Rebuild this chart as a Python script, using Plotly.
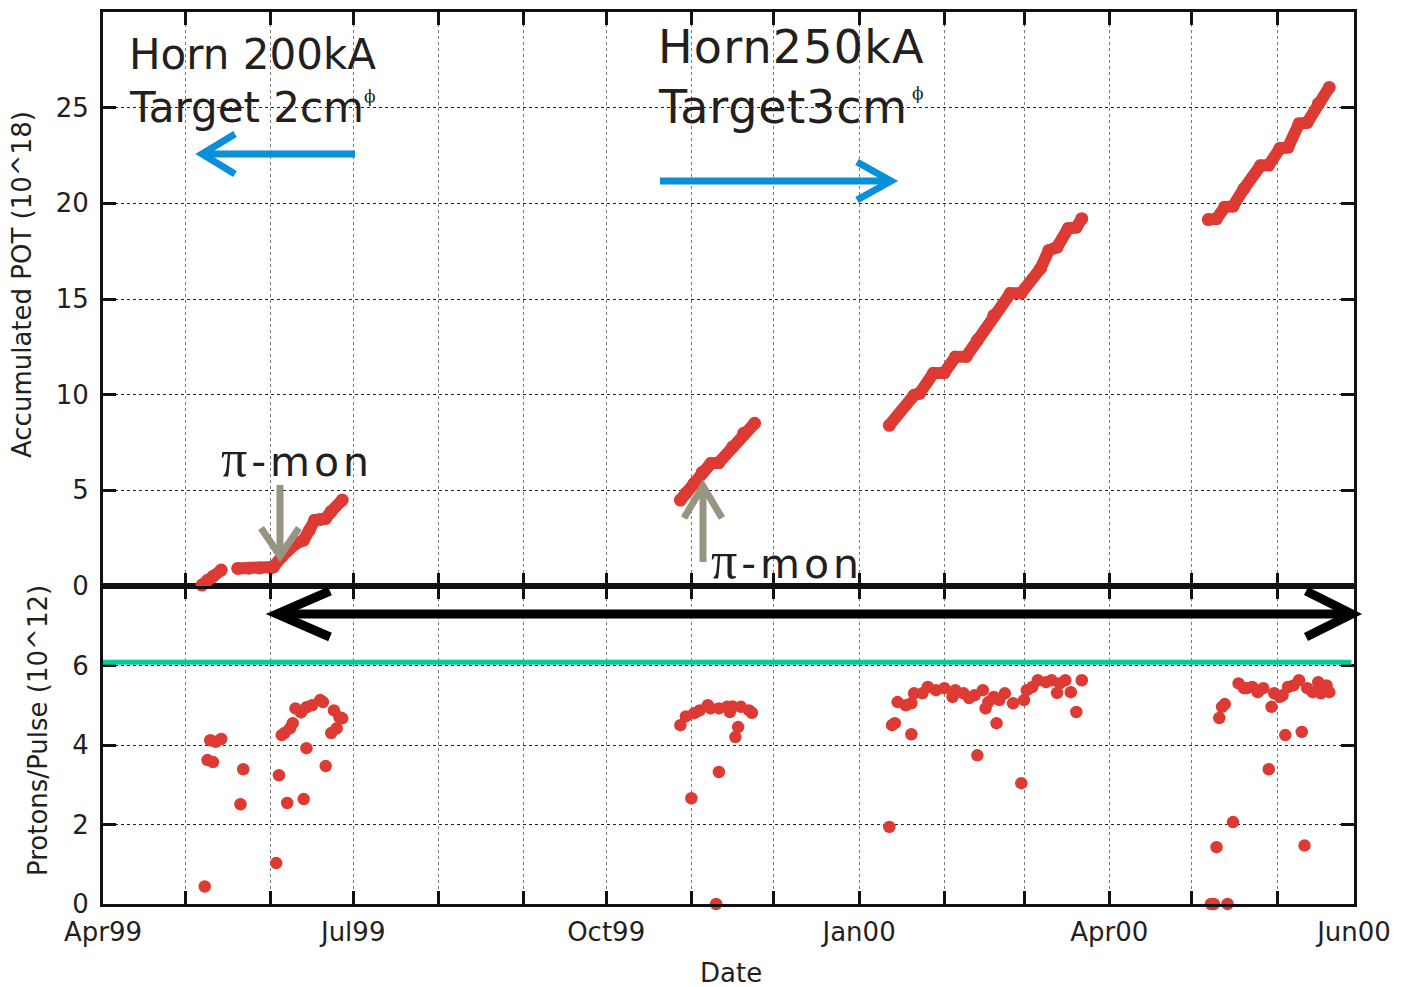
import plotly.graph_objects as go

# ---------------- data ----------------
# Accumulated protons on target (10^18); None marks gaps between running periods
pot_dates = [
    "1999-05-07", "1999-05-09", "1999-05-11", "1999-05-14", None,
    "1999-05-20", "1999-05-24", "1999-05-28", "1999-06-01", "1999-06-02",
    "1999-06-05", "1999-06-08", "1999-06-10", "1999-06-13", "1999-06-15",
    "1999-06-17", "1999-06-19", "1999-06-21", "1999-06-23", "1999-06-27", None,
    "1999-10-28", "1999-10-30", "1999-11-02", "1999-11-05", "1999-11-08",
    "1999-11-11", "1999-11-16", "1999-11-20", "1999-11-24", None,
    "2000-01-12", "2000-01-21", "2000-01-23", "2000-01-28", "2000-02-01",
    "2000-02-05", "2000-02-09", "2000-02-13", "2000-02-19", "2000-02-25",
    "2000-02-29", "2000-03-07", "2000-03-10", "2000-03-13", "2000-03-17",
    "2000-03-20", "2000-03-22", None,
    "2000-05-07", "2000-05-10", "2000-05-13", "2000-05-16", "2000-05-20",
    "2000-05-26", "2000-05-29", "2000-06-02", "2000-06-05", "2000-06-09",
    "2000-06-12", "2000-06-16", "2000-06-20",
]
pot_vals = [
    0.05, 0.3, 0.5, 0.83, None,
    0.92, 0.93, 0.94, 0.95, 1.0,
    1.53, 2.05, 2.2, 2.40, 2.9,
    3.44, 3.48, 3.53, 3.9, 4.49, None,
    4.49, 4.85, 5.37, 5.95, 6.40,
    6.45, 7.27, 7.98, 8.50, None,
    8.40, 9.97, 10.07, 11.12, 11.15,
    11.97, 12.0, 12.84, 14.14, 15.29,
    15.32, 16.60, 17.54, 17.71, 18.68,
    18.75, 19.20, None,
    19.15, 19.20, 19.80, 19.85, 20.77,
    21.97, 22.0, 22.86, 22.93, 24.16,
    24.23, 25.2, 26.06,
]

# Protons per pulse (10^12)
ppp_dates = [
    "1999-05-08", "1999-05-09", "1999-05-10", "1999-05-11", "1999-05-12", "1999-05-14",
    "1999-05-21", "1999-05-22", "1999-06-03", "1999-06-04", "1999-06-05", "1999-06-06",
    "1999-06-07", "1999-06-08", "1999-06-09", "1999-06-10", "1999-06-12", "1999-06-13",
    "1999-06-14", "1999-06-14", "1999-06-16", "1999-06-19", "1999-06-20", "1999-06-21",
    "1999-06-23", "1999-06-24", "1999-06-25", "1999-06-26", "1999-06-27",
    "1999-10-28", "1999-10-30", "1999-11-01", "1999-11-02", "1999-11-04", "1999-11-07",
    "1999-11-08", "1999-11-10", "1999-11-11", "1999-11-11", "1999-11-14", "1999-11-15",
    "1999-11-16", "1999-11-17", "1999-11-18", "1999-11-19", "1999-11-22", "1999-11-23",
    "2000-01-12", "2000-01-13", "2000-01-14", "2000-01-15", "2000-01-18", "2000-01-20",
    "2000-01-20", "2000-01-21", "2000-01-24", "2000-01-26", "2000-01-29", "2000-02-01",
    "2000-02-04", "2000-02-05", "2000-02-08", "2000-02-10", "2000-02-12", "2000-02-13",
    "2000-02-15", "2000-02-16", "2000-02-17", "2000-02-19", "2000-02-20", "2000-02-21",
    "2000-02-23", "2000-02-26", "2000-02-29", "2000-03-01", "2000-03-02", "2000-03-04",
    "2000-03-06", "2000-03-09", "2000-03-11", "2000-03-13", "2000-03-14", "2000-03-16",
    "2000-03-18", "2000-03-20", "2000-03-22",
    "2000-05-08", "2000-05-09", "2000-05-10", "2000-05-11", "2000-05-12", "2000-05-13",
    "2000-05-14", "2000-05-16", "2000-05-18", "2000-05-20", "2000-05-21", "2000-05-23",
    "2000-05-25", "2000-05-27", "2000-05-29", "2000-05-30", "2000-05-31", "2000-06-02",
    "2000-06-03", "2000-06-04", "2000-06-05", "2000-06-07", "2000-06-09", "2000-06-10",
    "2000-06-11", "2000-06-12", "2000-06-14", "2000-06-16", "2000-06-17", "2000-06-19",
    "2000-06-20",
]
ppp_vals = [
    0.44, 3.62, 4.12, 3.57, 4.08, 4.15,
    2.51, 3.39, 1.03, 3.24, 4.25, 4.30,
    2.54, 4.42, 4.55, 4.92, 4.82, 2.64,
    3.92, 4.95, 5.00, 5.13, 5.08, 3.47,
    4.30, 4.87, 4.42, 4.70, 4.67,
    4.50, 4.72, 2.66, 4.80, 4.87, 5.00,
    4.92, 0.00, 4.92, 3.32, 4.96, 4.83,
    4.97, 4.20, 4.45, 4.96, 4.87, 4.81,
    1.94, 4.50, 4.55, 5.08, 5.00, 5.05,
    4.27, 5.30, 5.30, 5.46, 5.38, 5.43,
    5.21, 5.38, 5.30, 5.18, 5.25, 3.74,
    5.38, 4.92, 5.08, 5.21, 4.55, 5.13,
    5.30, 5.05, 3.04, 5.13, 5.38, 5.46,
    5.63, 5.58, 5.63, 5.31, 5.55, 5.63,
    5.33, 4.83, 5.63,
    0.00, 0.00, 1.43, 4.68, 4.96, 5.03,
    0.00, 2.06, 5.55, 5.43, 5.43, 5.46,
    5.33, 5.43, 3.39, 4.96, 5.30, 5.21,
    5.25, 4.25, 5.46, 5.50, 5.63, 4.33,
    1.47, 5.43, 5.33, 5.58, 5.30, 5.50,
    5.33,
]

design_level = 6.08  # reference intensity line (10^12)

month_ticks = [
    "1999-04-01", "1999-05-01", "1999-06-01", "1999-07-01", "1999-08-01",
    "1999-09-01", "1999-10-01", "1999-11-01", "1999-12-01", "2000-01-01",
    "2000-02-01", "2000-03-01", "2000-04-01", "2000-05-01", "2000-06-01",
    "2000-06-29",
]
month_labels = [
    "Apr99", "", "", "Jul99", "", "", "Oct99", "", "", "Jan00",
    "", "", "Apr00", "", "", "Jun00",
]
x_range = ["1999-04-01", "2000-06-29"]

# ---------------- styling ----------------
RED = "#de3a34"
INK = "#231f20"
FONT = "DejaVu Sans"
W, H = 1413, 987
L, R, T, B = 103, 1354, 12, 904
SPLIT = 586


def P(px, py):
    """pixel -> paper coordinates (for decorations only)"""
    return (px - L) / (R - L), (B - py) / (B - T)


split_frac = (B - SPLIT) / (B - T)

fig = go.Figure()
fig.add_trace(go.Scatter(
    x=pot_dates, y=pot_vals, xaxis="x2", yaxis="y2", mode="lines+markers",
    line=dict(color=RED, width=12), marker=dict(color=RED, size=13),
    connectgaps=False, cliponaxis=False, showlegend=False,
))
fig.add_trace(go.Scatter(
    x=ppp_dates, y=ppp_vals, xaxis="x", yaxis="y", mode="markers",
    marker=dict(color=RED, size=12.5), cliponaxis=False, showlegend=False,
))

axis_common = dict(
    showline=True, linewidth=3, linecolor="#111", mirror="ticks",
    ticks="inside", ticklen=13, tickwidth=2.5, tickcolor="#111",
    zeroline=False, showgrid=True, gridwidth=1,
    tickfont=dict(family=FONT, size=26, color=INK),
)

fig.update_layout(
    width=W, height=H,
    margin=dict(l=L, r=W - R, t=T, b=H - B, autoexpand=False),
    paper_bgcolor="white", plot_bgcolor="white",
    xaxis=dict(axis_common, type="date", range=x_range, anchor="y",
               tickmode="array", tickvals=month_ticks, ticktext=month_labels,
               gridcolor="#7a7a7a", griddash="3px,3px", ticklabelstandoff=3),
    xaxis2=dict(axis_common, type="date", range=x_range, anchor="y2", matches="x",
                tickmode="array", tickvals=month_ticks, ticktext=month_labels,
                showticklabels=False, gridcolor="#7a7a7a", griddash="3px,3px"),
    yaxis=dict(axis_common, domain=[0, split_frac], range=[0, 8],
               tickmode="array", tickvals=[0, 2, 4, 6],
               gridcolor="#222", griddash="3px,3px", anchor="x", ticklabelstandoff=6),
    yaxis2=dict(axis_common, domain=[split_frac, 1], range=[0, 30],
                tickmode="array", tickvals=[0, 5, 10, 15, 20, 25],
                gridcolor="#222", griddash="3px,3px", anchor="x2", ticklabelstandoff=6),
)

shapes = []
# green reference line
shapes.append(dict(type="line", xref="paper", yref="y", x0=0, x1=0.998,
                   y0=design_level, y1=design_level,
                   line=dict(color="#0cc799", width=5)))


def seg(p0, p1, color, width):
    x0, y0 = P(*p0)
    x1, y1 = P(*p1)
    return dict(type="line", xref="paper", yref="paper", x0=x0, y0=y0, x1=x1, y1=y1,
                line=dict(color=color, width=width))


def chevron(a, tip, b, color, width):
    pts = [P(*a), P(*tip), P(*b)]
    path = "M{:.5f},{:.5f} L{:.5f},{:.5f} L{:.5f},{:.5f}".format(
        pts[0][0], pts[0][1], pts[1][0], pts[1][1], pts[2][0], pts[2][1])
    return dict(type="path", xref="paper", yref="paper", path=path,
                line=dict(color=color, width=width))


BLUE = "#0a8fd9"
GRAY = "#979482"
BLACK = "#000000"
# blue arrows
shapes.append(seg((204, 154), (355, 154), BLUE, 7))
shapes.append(chevron((235, 134), (202, 154), (235, 174), BLUE, 7))
shapes.append(seg((660, 181), (889, 181), BLUE, 7))
shapes.append(chevron((857, 162), (891, 181), (857, 200), BLUE, 7))
# gray arrows
shapes.append(seg((280, 485), (280, 553), GRAY, 7))
shapes.append(chevron((261, 528), (280, 556), (299, 528), GRAY, 7))
shapes.append(seg((703, 562), (703, 488), GRAY, 7))
shapes.append(chevron((684, 518), (703, 486), (722, 518), GRAY, 7))
# black double arrow
shapes.append(seg((280, 614), (1348, 614), BLACK, 9))
shapes.append(chevron((330, 591), (277, 614), (330, 637), BLACK, 9))
shapes.append(chevron((1306, 591), (1352, 614), (1306, 637), BLACK, 9))
fig.update_layout(shapes=shapes)

ann = []


def text(px, py, s, size, xanchor="left", family=FONT, angle=0):
    x, y = P(px, py)
    ann.append(dict(xref="paper", yref="paper", x=x, y=y, text=s, showarrow=False,
                    xanchor=xanchor, yanchor="middle", textangle=angle,
                    font=dict(family=family, size=size, color=INK)))


text(127, 55, "Horn 200kA", 42)
text(127, 107, "Target 2cm", 42)
text(370, 96, "ϕ", 17, xanchor="center", family="DejaVu Serif")
text(656, 47, '<span style="letter-spacing:1.2px">Horn250kA</span>', 46)
text(656, 107, '<span style="letter-spacing:0.8px">Target3cm</span>', 46)
text(918, 93, "ϕ", 17, xanchor="center", family="DejaVu Serif")
PI = ('<span style="letter-spacing:4px">'
      '<span style="font-family:Liberation Serif;font-size:52px">π</span>'
      '-mon</span>')
text(219, 458, PI, 41)
text(709, 560, PI, 41)
# axis titles
text(22, 285, "Accumulated POT (10^18)", 26, xanchor="center", angle=-90)
text(38, 731, "Protons/Pulse (10^12)", 26, xanchor="center", angle=-90)
text(731, 973, "Date", 26, xanchor="center")
fig.update_layout(annotations=ann)

fig.write_html("out.html")
